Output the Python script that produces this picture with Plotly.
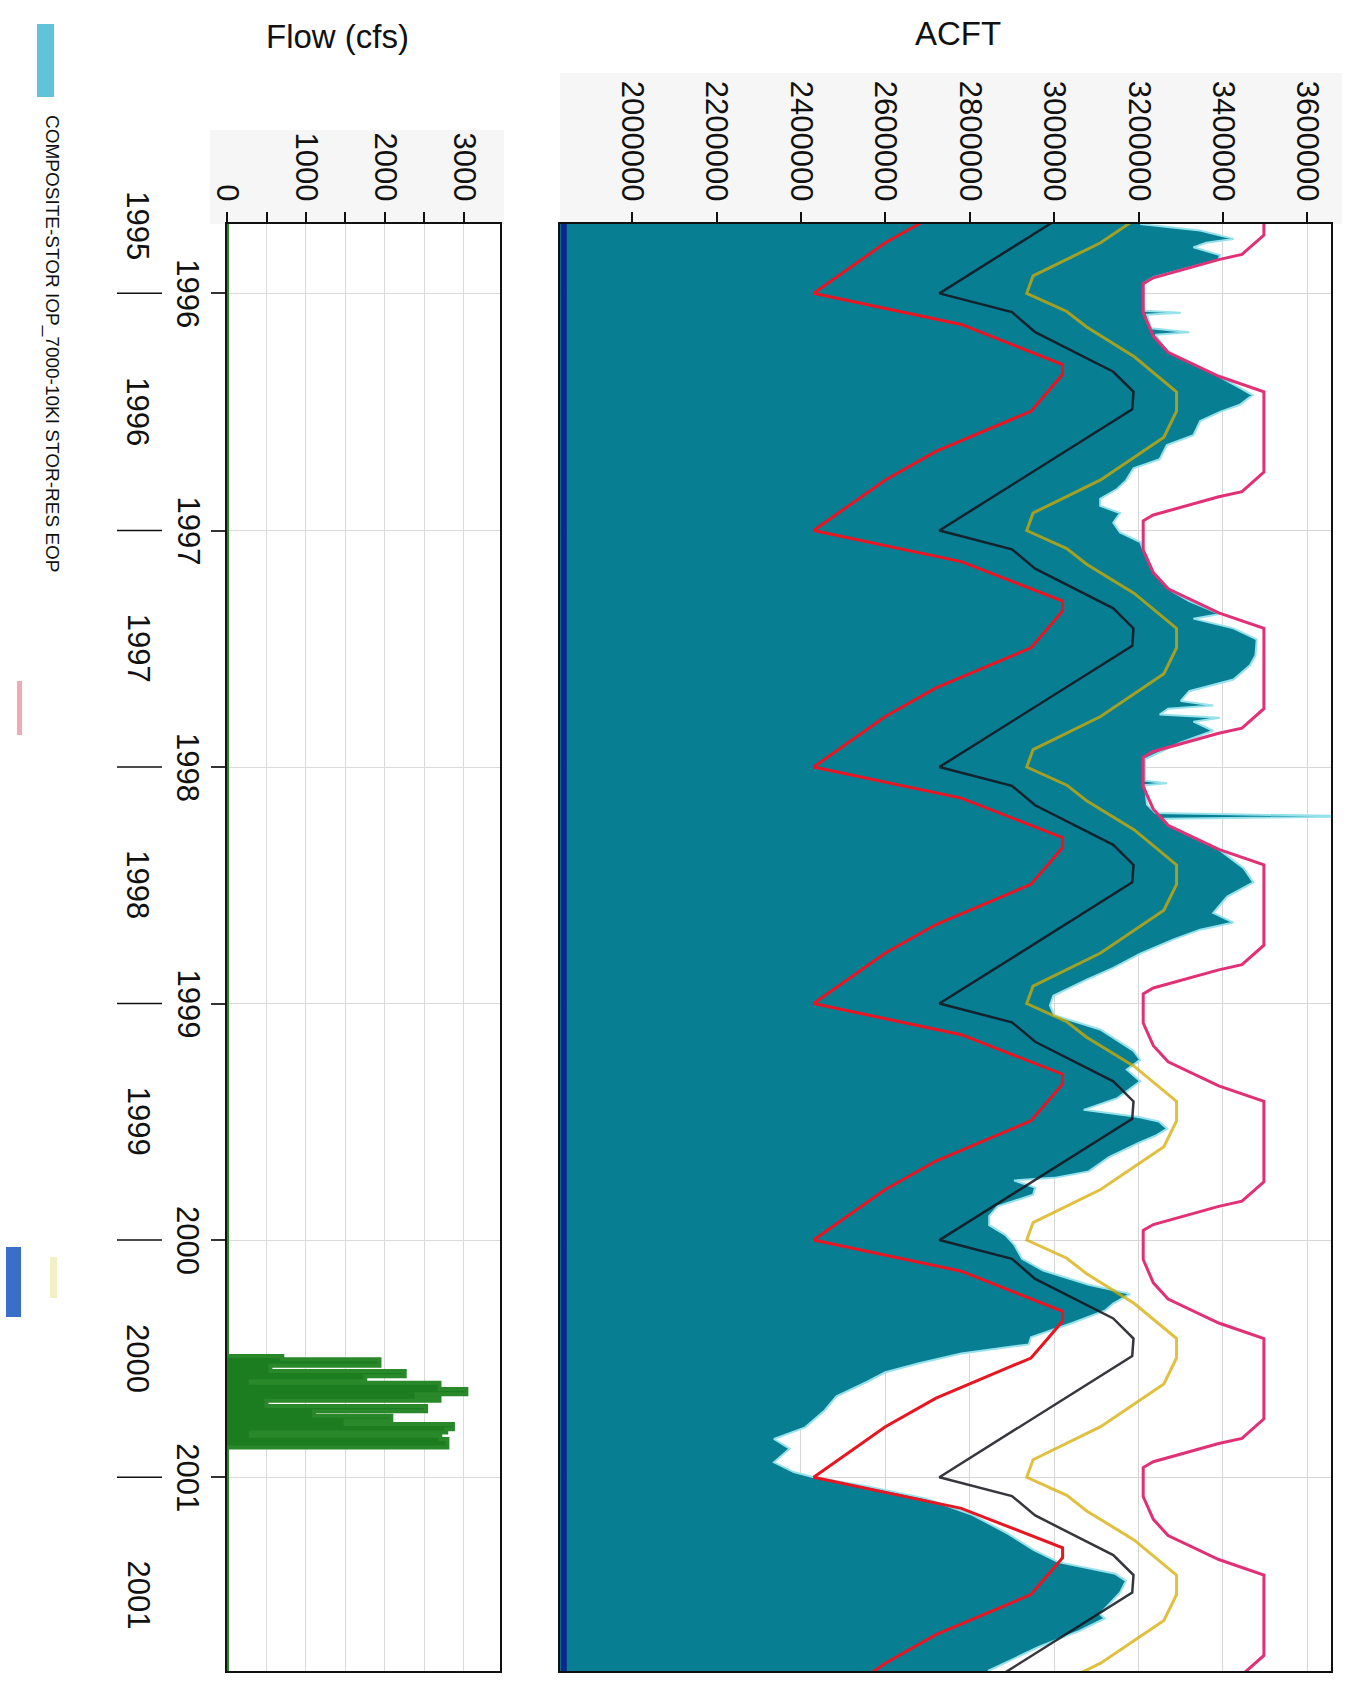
import plotly.graph_objects as go

W, H = 1348, 1681
FONT = "Liberation Sans, Arial, sans-serif"

# ---------------- data ----------------
START_DATE = "1995-09-16"
END_DATE = "2001-10-27"

STORAGE_DATES = [
    "1995-09-16", "1995-09-26", "1995-10-09", "1995-10-15", "1995-10-22", "1995-11-03",
    "1995-11-10", "1995-11-24", "1995-12-07", "1995-12-16", "1996-01-15", "1996-01-28",
    "1996-01-31", "1996-02-03", "1996-02-24", "1996-03-01", "1996-03-05", "1996-04-01",
    "1996-04-19", "1996-05-08", "1996-05-26", "1996-06-06", "1996-06-21", "1996-07-02",
    "1996-07-16", "1996-08-07", "1996-08-22", "1996-09-13", "1996-09-27", "1996-10-16",
    "1996-10-29", "1996-11-13", "1996-11-24", "1996-12-05", "1996-12-20", "1997-01-04",
    "1997-01-19", "1997-01-31", "1997-03-07", "1997-04-05", "1997-04-20", "1997-05-10",
    "1997-05-17", "1997-06-01", "1997-06-18", "1997-07-13", "1997-07-28", "1997-08-19",
    "1997-09-06", "1997-09-21", "1997-09-28", "1997-10-03", "1997-10-12", "1997-10-17",
    "1997-10-23", "1997-11-06", "1997-11-24", "1997-12-13", "1997-12-20", "1998-01-22",
    "1998-01-26", "1998-01-29", "1998-02-28", "1998-03-13", "1998-03-18", "1998-03-22",
    "1998-04-01", "1998-04-20", "1998-05-08", "1998-06-06", "1998-06-28", "1998-07-20",
    "1998-08-14", "1998-08-29", "1998-09-09", "1998-09-24", "1998-10-16", "1998-11-07",
    "1998-11-25", "1998-12-20", "1999-01-04", "1999-01-19", "1999-02-10", "1999-03-15",
    "1999-03-29", "1999-04-13", "1999-05-01", "1999-05-27", "1999-06-14", "1999-06-25",
    "1999-07-02", "1999-07-13", "1999-07-24", "1999-08-04", "1999-08-26", "1999-09-17",
    "1999-09-27", "1999-10-01", "1999-10-12", "1999-10-23", "1999-11-10", "1999-11-25",
    "1999-12-09", "1999-12-24", "2000-01-08", "2000-01-30", "2000-02-17", "2000-03-10",
    "2000-03-24", "2000-04-08", "2000-04-19", "2000-05-08", "2000-05-30", "2000-06-10",
    "2000-06-24", "2000-07-09", "2000-07-23", "2000-08-07", "2000-08-29", "2000-09-20",
    "2000-10-16", "2000-11-03", "2000-11-18", "2000-12-09", "2000-12-24", "2001-01-01",
    "2001-01-15", "2001-02-03", "2001-02-28", "2001-03-29", "2001-04-23", "2001-05-12",
    "2001-05-30", "2001-06-10", "2001-06-28", "2001-07-31", "2001-08-07", "2001-08-26",
    "2001-09-20", "2001-10-27",
]
STORAGE_ACFT = [
    3204000, 3346000, 3425000, 3360000, 3330000, 3393000,
    3390000, 3307000, 3235000, 3212000, 3212000, 3215000,
    3300000, 3220000, 3230000, 3320000, 3240000, 3270000,
    3330000, 3390000, 3440000, 3470000, 3440000, 3393000,
    3346000, 3330000, 3267000, 3250000, 3188000, 3170000,
    3149000, 3109000, 3109000, 3156000, 3140000, 3156000,
    3204000, 3211000, 3235000, 3280000, 3320000, 3393000,
    3330000, 3425000, 3480000, 3477000, 3464000, 3425000,
    3320000, 3300000, 3377000, 3270000, 3250000, 3393000,
    3330000, 3377000, 3300000, 3235000, 3215000, 3215000,
    3267000, 3215000, 3220000, 3240000, 3720000, 3260000,
    3270000, 3330000, 3390000, 3449000, 3472000, 3410000,
    3377000, 3425000, 3346000, 3283000, 3204000, 3140000,
    3077000, 2998000, 2990000, 3000000, 3109000, 3188000,
    3204000, 3172000, 3204000, 3150000, 3070000, 3200000,
    3248000, 3268000, 3240000, 3200000, 3130000, 3082000,
    3000000, 2905000, 2955000, 2950000, 2866000, 2846000,
    2846000, 2884000, 2905000, 2924000, 2974000, 3082000,
    3180000, 3140000, 3120000, 3043000, 2945000, 2940000,
    2780000, 2680000, 2600000, 2556000, 2484000, 2456000,
    2410000, 2336000, 2373000, 2336000, 2383000, 2430000,
    2556000, 2697000, 2806000, 2890000, 2951000, 3010000,
    3145000, 3170000, 3156000, 3108000, 3120000, 3060000,
    2963000, 2843000,
]

# seasonal guide curves, read once per year and repeated for every year shown
RULE_YEARS = [1995, 1996, 1997, 1998, 1999, 2000, 2001, 2002]
RED_MONTH_DAYS = ["01-01", "02-18", "04-20", "05-05", "06-01", "07-01", "09-01", "10-15"]
RED_ACFT = [2430000, 2780000, 3020000, 3020000, 2985000, 2945000, 2720000, 2600000]
BLACK_MONTH_DAYS = ["01-01", "01-30", "03-01", "05-01", "06-01", "06-28"]
BLACK_ACFT = [2728000, 2900000, 2955000, 3140000, 3188000, 3185000]
YELLOW_MONTH_DAYS = ["01-01", "01-29", "02-22", "04-08", "06-01", "07-01", "08-10", "10-15", "12-05"]
YELLOW_ACFT = [2935000, 3030000, 3077000, 3190000, 3290000, 3290000, 3260000, 3110000, 2950000]
PINK_MONTH_DAYS = ["01-01", "01-31", "03-07", "04-01", "05-08", "06-01", "10-03", "11-02",
                   "11-10", "12-08", "12-17"]
PINK_ACFT = [3211000, 3211000, 3235000, 3270000, 3390000, 3497000, 3497000, 3445000,
             3390000, 3235000, 3211000]

BOTTOM_DATES = [START_DATE, END_DATE]
BOTTOM_ACFT = [1838000, 1838000]

FLOW_DATES = [
    "1995-09-16", "2000-06-28", "2000-07-03", "2000-07-13", "2000-07-21", "2000-07-29",
    "2000-08-06", "2000-08-08", "2000-08-18", "2000-08-26", "2000-08-31", "2000-09-05",
    "2000-09-13", "2000-09-21", "2000-09-28", "2000-10-06", "2000-10-11", "2000-10-19",
    "2000-10-24", "2000-10-29", "2000-11-03", "2000-11-16", "2001-10-27",
]
FLOW_CFS = [
    0, 700, 1930, 550, 2250, 1750,
    300, 2690, 3030, 2400, 2690, 500,
    2520, 1100, 2080, 1500, 2860, 2775,
    300, 2700, 2790, 0, 0,
]

ACFT_TICKS = [2000000, 2200000, 2400000, 2600000, 2800000, 3000000, 3200000, 3400000, 3600000]
ACFT_TICK_LABELS = ["2000000", "2200000", "2400000", "2600000", "2800000", "3000000",
                    "3200000", "3400000", "3600000"]
FLOW_TICKS = [0, 500, 1000, 1500, 2000, 2500, 3000]
FLOW_TICK_LABELS = ["0", "", "1000", "", "2000", "", "3000"]
YEAR_TICK_DATES = ["1996-01-01", "1997-01-01", "1998-01-01", "1999-01-01", "2000-01-01", "2001-01-01"]
YEAR_TICK_LABELS = ["1996", "1997", "1998", "1999", "2000", "2001"]
YEAR_ROW_DATES = ["1995-09-18", "1996-07-01", "1997-07-01", "1998-07-01", "1999-07-01",
                  "2000-07-01", "2001-07-01"]
YEAR_ROW_LABELS = ["1995", "1996", "1997", "1998", "1999", "2000", "2001"]

LEGEND_TEXT = "COMPOSITE-STOR IOP_7000-10KI STOR-RES EOP"


def tile(month_days, values):
    dates, vals = [], []
    for yr in RULE_YEARS:
        for md, v in zip(month_days, values):
            dates.append(f"{yr}-{md}")
            vals.append(v)
    return dates, vals


# ---------------- layout geometry (pixels) ----------------
FLOW_X0, FLOW_X1 = 227, 500
ACFT_X0, ACFT_X1 = 560, 1331
PLOT_Y0, PLOT_Y1 = 224, 1671


def fx(px):
    return px / W


def fy(py):
    return 1 - py / H


fig = go.Figure()

# flow panel
fig.add_trace(go.Scatter(
    x=FLOW_CFS, y=FLOW_DATES, mode="lines", line_shape="vh",
    line=dict(color="rgb(40,136,42)", width=4),
    fill="tozerox", fillcolor="rgb(28,124,32)",
    xaxis="x", yaxis="y", name="Flow", showlegend=False,
))

# ACFT panel
fig.add_trace(go.Scatter(
    x=STORAGE_ACFT, y=STORAGE_DATES, mode="lines",
    line=dict(color="rgb(150,226,236)", width=2),
    fill="tozerox", fillcolor="rgba(0,122,143,0.97)",
    xaxis="x2", yaxis="y2", name="COMPOSITE-STOR", showlegend=False,
))
fig.add_trace(go.Scatter(
    x=BOTTOM_ACFT, y=BOTTOM_DATES, mode="lines",
    line=dict(color="rgb(12,40,140)", width=6),
    xaxis="x2", yaxis="y2", showlegend=False,
))
for md, vals, color, width, op in [
    (RED_MONTH_DAYS, RED_ACFT, "rgb(232,22,34)", 3, 1.0),
    (BLACK_MONTH_DAYS, BLACK_ACFT, "rgb(20,20,28)", 2.5, 0.85),
    (YELLOW_MONTH_DAYS, YELLOW_ACFT, "rgb(215,172,0)", 3, 0.75),
    (PINK_MONTH_DAYS, PINK_ACFT, "rgb(226,48,118)", 3, 1.0),
]:
    d, v = tile(md, vals)
    fig.add_trace(go.Scatter(
        x=v, y=d, mode="lines", line=dict(color=color, width=width), opacity=op,
        xaxis="x2", yaxis="y2", showlegend=False,
    ))

tickfont = dict(family=FONT, size=31, color="#111")
ydom = [fy(PLOT_Y1), fy(PLOT_Y0)]

fig.update_layout(
    width=W, height=H, autosize=False,
    margin=dict(l=0, r=0, t=0, b=0, pad=0, autoexpand=False),
    paper_bgcolor="white", plot_bgcolor="white",
    showlegend=False,
    font=dict(family=FONT, color="#111"),
    xaxis=dict(
        domain=[fx(FLOW_X0), fx(FLOW_X1)], range=[0, 3456], side="top", anchor="y",
        tickmode="array", tickvals=FLOW_TICKS, ticktext=FLOW_TICK_LABELS,
        tickangle=90, ticks="outside", ticklen=10, tickcolor="#111", tickwidth=1.5,
        tickfont=tickfont, showline=True, linecolor="#111", linewidth=1.5, mirror=True,
        showgrid=True, gridcolor="#DADADA", gridwidth=1, zeroline=False, automargin=False,
    ),
    yaxis=dict(
        domain=ydom, type="date", range=[END_DATE, START_DATE], anchor="x",
        tickmode="array", tickvals=YEAR_TICK_DATES, showticklabels=False,
        ticks="outside", ticklen=14, tickcolor="#333", tickwidth=2,
        showline=True, linecolor="#111", linewidth=1.5, mirror=True, layer="below traces",
        showgrid=True, gridcolor="#DADADA", zeroline=False, automargin=False,
    ),
    xaxis2=dict(
        domain=[fx(ACFT_X0), fx(ACFT_X1)], range=[1829000, 3656000], side="top", anchor="y2",
        tickmode="array", tickvals=ACFT_TICKS, ticktext=ACFT_TICK_LABELS,
        tickangle=90, ticks="outside", ticklen=10, tickcolor="#111", tickwidth=1.5,
        tickfont=tickfont, showline=True, linecolor="#111", linewidth=1.5, mirror=True,
        showgrid=True, gridcolor="#D6D6D6", zeroline=False, layer="below traces",
        automargin=False,
    ),
    yaxis2=dict(
        domain=ydom, type="date", range=[END_DATE, START_DATE], anchor="x2", matches="y",
        tickmode="array", tickvals=YEAR_TICK_DATES, showticklabels=False, ticks="",
        showline=True, linecolor="#111", linewidth=1.5, mirror=True,
        showgrid=True, gridcolor="#D6D6D6", zeroline=False, layer="below traces",
        automargin=False,
    ),
)

shapes = [
    # light backgrounds behind the value tick labels
    dict(type="rect", xref="paper", yref="paper", x0=fx(210), x1=fx(504), y0=fy(PLOT_Y0), y1=fy(130),
         fillcolor="#F6F6F6", line=dict(width=0), layer="below"),
    dict(type="rect", xref="paper", yref="paper", x0=fx(ACFT_X0), x1=fx(1342), y0=fy(PLOT_Y0), y1=fy(73),
         fillcolor="#F6F6F6", line=dict(width=0), layer="below"),
    # legend swatches
    dict(type="rect", xref="paper", yref="paper", x0=fx(37), x1=fx(54), y0=fy(97), y1=fy(24),
         fillcolor="rgb(96,196,214)", line=dict(width=0)),
    dict(type="rect", xref="paper", yref="paper", x0=fx(17), x1=fx(22), y0=fy(735), y1=fy(681),
         fillcolor="rgb(242,170,178)", line=dict(width=0)),
    dict(type="rect", xref="paper", yref="paper", x0=fx(6), x1=fx(21), y0=fy(1317), y1=fy(1247),
         fillcolor="rgb(58,110,200)", line=dict(width=0)),
    dict(type="rect", xref="paper", yref="paper", x0=fx(50), x1=fx(57), y0=fy(1298), y1=fy(1257),
         fillcolor="rgb(242,240,196)", line=dict(width=0)),
]
for d in YEAR_TICK_DATES:
    shapes.append(dict(type="line", xref="paper", yref="y", x0=fx(117), x1=fx(162), y0=d, y1=d,
                       line=dict(color="#111", width=1.5)))

annotations = [
    dict(text="Flow (cfs)", xref="paper", yref="paper", x=fx(337), y=fy(36),
         showarrow=False, font=dict(family=FONT, size=33, color="#111"), xanchor="center", yanchor="middle"),
    dict(text="ACFT", xref="paper", yref="paper", x=fx(958), y=fy(33),
         showarrow=False, font=dict(family=FONT, size=33, color="#111"), xanchor="center", yanchor="middle"),
    dict(text=LEGEND_TEXT, xref="paper", yref="paper", x=fx(52), y=fy(344), textangle=90,
         showarrow=False, font=dict(family=FONT, size=19, color="#111"), xanchor="center", yanchor="middle"),
]
for d, lab in zip(YEAR_TICK_DATES, YEAR_TICK_LABELS):
    annotations.append(dict(text=lab, xref="paper", yref="y", x=fx(188), y=d, textangle=90,
                            showarrow=False, font=tickfont, xanchor="center", yanchor="middle"))
for d, lab in zip(YEAR_ROW_DATES, YEAR_ROW_LABELS):
    annotations.append(dict(text=lab, xref="paper", yref="y", x=fx(138), y=d, textangle=90,
                            showarrow=False, font=tickfont, xanchor="center", yanchor="middle"))

fig.update_layout(shapes=shapes, annotations=annotations)

fig.write_html(
    "out.html",
    config={"displayModeBar": False},
    post_script="document.body.style.margin='0';document.body.style.overflow='hidden';",
)
